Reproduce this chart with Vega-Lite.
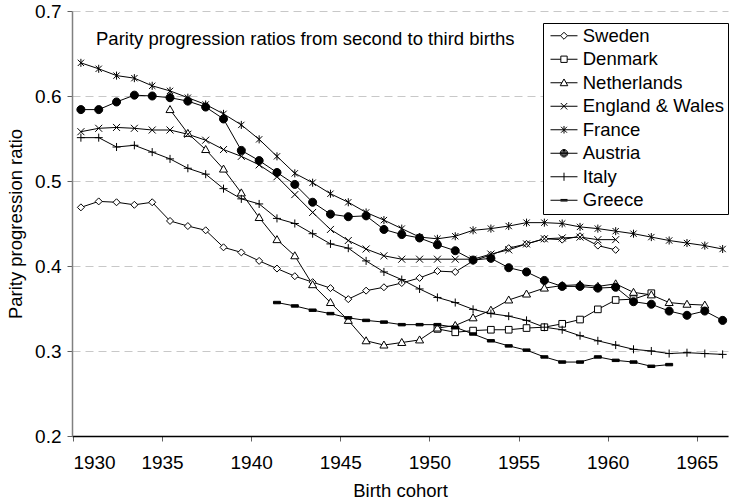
{
  "$schema": "https://vega.github.io/schema/vega-lite/v6.json",
  "width": 656,
  "height": 425,
  "autosize": {"type": "none"},
  "padding": {"left": 72, "top": 11, "right": 1, "bottom": 65},
  "background": "white",
  "config": {
    "view": {"stroke": null},
    "font": "Liberation Sans",
    "axis": {"labelFont": "Liberation Sans", "titleFont": "Liberation Sans", "labelFontSize": 19, "titleFontSize": 18.5, "titleFontWeight": "normal", "labelColor": "black", "titleColor": "black"}
  },
  "title": {"text": "Parity progression ratios from second to third births", "anchor": "start", "frame": "group", "orient": "none", "offset": 0, "baseline": "alphabetic", "dx": 24, "dy": 34, "fontSize": 18.5, "fontWeight": "normal", "color": "black", "font": "Liberation Sans"},
  "data": {"values": [
    {"country":"Sweden","cohort":1930,"ppr":0.469},{"country":"Sweden","cohort":1931,"ppr":0.476},{"country":"Sweden","cohort":1932,"ppr":0.475},{"country":"Sweden","cohort":1933,"ppr":0.472},{"country":"Sweden","cohort":1934,"ppr":0.475},{"country":"Sweden","cohort":1935,"ppr":0.453},{"country":"Sweden","cohort":1936,"ppr":0.447},{"country":"Sweden","cohort":1937,"ppr":0.442},{"country":"Sweden","cohort":1938,"ppr":0.422},{"country":"Sweden","cohort":1939,"ppr":0.416},{"country":"Sweden","cohort":1940,"ppr":0.406},{"country":"Sweden","cohort":1941,"ppr":0.397},{"country":"Sweden","cohort":1942,"ppr":0.388},{"country":"Sweden","cohort":1943,"ppr":0.381},{"country":"Sweden","cohort":1944,"ppr":0.374},{"country":"Sweden","cohort":1945,"ppr":0.361},{"country":"Sweden","cohort":1946,"ppr":0.371},{"country":"Sweden","cohort":1947,"ppr":0.375},{"country":"Sweden","cohort":1948,"ppr":0.380},{"country":"Sweden","cohort":1949,"ppr":0.386},{"country":"Sweden","cohort":1950,"ppr":0.394},{"country":"Sweden","cohort":1951,"ppr":0.393},{"country":"Sweden","cohort":1952,"ppr":0.406},{"country":"Sweden","cohort":1953,"ppr":0.413},{"country":"Sweden","cohort":1954,"ppr":0.421},{"country":"Sweden","cohort":1955,"ppr":0.426},{"country":"Sweden","cohort":1956,"ppr":0.432},{"country":"Sweden","cohort":1957,"ppr":0.431},{"country":"Sweden","cohort":1958,"ppr":0.435},{"country":"Sweden","cohort":1959,"ppr":0.424},{"country":"Sweden","cohort":1960,"ppr":0.419},
    {"country":"Denmark","cohort":1950,"ppr":0.326},{"country":"Denmark","cohort":1951,"ppr":0.322},{"country":"Denmark","cohort":1952,"ppr":0.324},{"country":"Denmark","cohort":1953,"ppr":0.325},{"country":"Denmark","cohort":1954,"ppr":0.325},{"country":"Denmark","cohort":1955,"ppr":0.327},{"country":"Denmark","cohort":1956,"ppr":0.328},{"country":"Denmark","cohort":1957,"ppr":0.332},{"country":"Denmark","cohort":1958,"ppr":0.337},{"country":"Denmark","cohort":1959,"ppr":0.349},{"country":"Denmark","cohort":1960,"ppr":0.360},{"country":"Denmark","cohort":1961,"ppr":0.361},{"country":"Denmark","cohort":1962,"ppr":0.368},
    {"country":"Netherlands","cohort":1935,"ppr":0.584},{"country":"Netherlands","cohort":1936,"ppr":0.556},{"country":"Netherlands","cohort":1937,"ppr":0.537},{"country":"Netherlands","cohort":1938,"ppr":0.514},{"country":"Netherlands","cohort":1939,"ppr":0.486},{"country":"Netherlands","cohort":1940,"ppr":0.457},{"country":"Netherlands","cohort":1941,"ppr":0.431},{"country":"Netherlands","cohort":1942,"ppr":0.412},{"country":"Netherlands","cohort":1943,"ppr":0.378},{"country":"Netherlands","cohort":1944,"ppr":0.357},{"country":"Netherlands","cohort":1945,"ppr":0.336},{"country":"Netherlands","cohort":1946,"ppr":0.312},{"country":"Netherlands","cohort":1947,"ppr":0.307},{"country":"Netherlands","cohort":1948,"ppr":0.310},{"country":"Netherlands","cohort":1949,"ppr":0.313},{"country":"Netherlands","cohort":1950,"ppr":0.327},{"country":"Netherlands","cohort":1951,"ppr":0.330},{"country":"Netherlands","cohort":1952,"ppr":0.339},{"country":"Netherlands","cohort":1953,"ppr":0.348},{"country":"Netherlands","cohort":1954,"ppr":0.360},{"country":"Netherlands","cohort":1955,"ppr":0.367},{"country":"Netherlands","cohort":1956,"ppr":0.374},{"country":"Netherlands","cohort":1957,"ppr":0.377},{"country":"Netherlands","cohort":1958,"ppr":0.378},{"country":"Netherlands","cohort":1959,"ppr":0.376},{"country":"Netherlands","cohort":1960,"ppr":0.379},{"country":"Netherlands","cohort":1961,"ppr":0.369},{"country":"Netherlands","cohort":1962,"ppr":0.366},{"country":"Netherlands","cohort":1963,"ppr":0.357},{"country":"Netherlands","cohort":1964,"ppr":0.355},{"country":"Netherlands","cohort":1965,"ppr":0.354},
    {"country":"England & Wales","cohort":1930,"ppr":0.558},{"country":"England & Wales","cohort":1931,"ppr":0.562},{"country":"England & Wales","cohort":1932,"ppr":0.563},{"country":"England & Wales","cohort":1933,"ppr":0.562},{"country":"England & Wales","cohort":1934,"ppr":0.560},{"country":"England & Wales","cohort":1935,"ppr":0.560},{"country":"England & Wales","cohort":1936,"ppr":0.555},{"country":"England & Wales","cohort":1937,"ppr":0.548},{"country":"England & Wales","cohort":1938,"ppr":0.537},{"country":"England & Wales","cohort":1939,"ppr":0.529},{"country":"England & Wales","cohort":1940,"ppr":0.519},{"country":"England & Wales","cohort":1941,"ppr":0.505},{"country":"England & Wales","cohort":1942,"ppr":0.484},{"country":"England & Wales","cohort":1943,"ppr":0.463},{"country":"England & Wales","cohort":1944,"ppr":0.443},{"country":"England & Wales","cohort":1945,"ppr":0.430},{"country":"England & Wales","cohort":1946,"ppr":0.420},{"country":"England & Wales","cohort":1947,"ppr":0.412},{"country":"England & Wales","cohort":1948,"ppr":0.408},{"country":"England & Wales","cohort":1949,"ppr":0.408},{"country":"England & Wales","cohort":1950,"ppr":0.408},{"country":"England & Wales","cohort":1951,"ppr":0.408},{"country":"England & Wales","cohort":1952,"ppr":0.408},{"country":"England & Wales","cohort":1953,"ppr":0.414},{"country":"England & Wales","cohort":1954,"ppr":0.419},{"country":"England & Wales","cohort":1955,"ppr":0.426},{"country":"England & Wales","cohort":1956,"ppr":0.432},{"country":"England & Wales","cohort":1957,"ppr":0.433},{"country":"England & Wales","cohort":1958,"ppr":0.434},{"country":"England & Wales","cohort":1959,"ppr":0.431},{"country":"England & Wales","cohort":1960,"ppr":0.431},
    {"country":"France","cohort":1930,"ppr":0.639},{"country":"France","cohort":1931,"ppr":0.632},{"country":"France","cohort":1932,"ppr":0.624},{"country":"France","cohort":1933,"ppr":0.621},{"country":"France","cohort":1934,"ppr":0.612},{"country":"France","cohort":1935,"ppr":0.606},{"country":"France","cohort":1936,"ppr":0.598},{"country":"France","cohort":1937,"ppr":0.590},{"country":"France","cohort":1938,"ppr":0.579},{"country":"France","cohort":1939,"ppr":0.566},{"country":"France","cohort":1940,"ppr":0.549},{"country":"France","cohort":1941,"ppr":0.529},{"country":"France","cohort":1942,"ppr":0.509},{"country":"France","cohort":1943,"ppr":0.498},{"country":"France","cohort":1944,"ppr":0.485},{"country":"France","cohort":1945,"ppr":0.475},{"country":"France","cohort":1946,"ppr":0.463},{"country":"France","cohort":1947,"ppr":0.454},{"country":"France","cohort":1948,"ppr":0.444},{"country":"France","cohort":1949,"ppr":0.434},{"country":"France","cohort":1950,"ppr":0.432},{"country":"France","cohort":1951,"ppr":0.435},{"country":"France","cohort":1952,"ppr":0.442},{"country":"France","cohort":1953,"ppr":0.444},{"country":"France","cohort":1954,"ppr":0.447},{"country":"France","cohort":1955,"ppr":0.451},{"country":"France","cohort":1956,"ppr":0.451},{"country":"France","cohort":1957,"ppr":0.450},{"country":"France","cohort":1958,"ppr":0.446},{"country":"France","cohort":1959,"ppr":0.444},{"country":"France","cohort":1960,"ppr":0.441},{"country":"France","cohort":1961,"ppr":0.438},{"country":"France","cohort":1962,"ppr":0.434},{"country":"France","cohort":1963,"ppr":0.430},{"country":"France","cohort":1964,"ppr":0.427},{"country":"France","cohort":1965,"ppr":0.424},{"country":"France","cohort":1966,"ppr":0.420},
    {"country":"Austria","cohort":1930,"ppr":0.584},{"country":"Austria","cohort":1931,"ppr":0.584},{"country":"Austria","cohort":1932,"ppr":0.593},{"country":"Austria","cohort":1933,"ppr":0.601},{"country":"Austria","cohort":1934,"ppr":0.600},{"country":"Austria","cohort":1935,"ppr":0.598},{"country":"Austria","cohort":1936,"ppr":0.594},{"country":"Austria","cohort":1937,"ppr":0.587},{"country":"Austria","cohort":1938,"ppr":0.573},{"country":"Austria","cohort":1939,"ppr":0.536},{"country":"Austria","cohort":1940,"ppr":0.524},{"country":"Austria","cohort":1941,"ppr":0.510},{"country":"Austria","cohort":1942,"ppr":0.496},{"country":"Austria","cohort":1943,"ppr":0.475},{"country":"Austria","cohort":1944,"ppr":0.461},{"country":"Austria","cohort":1945,"ppr":0.458},{"country":"Austria","cohort":1946,"ppr":0.459},{"country":"Austria","cohort":1947,"ppr":0.443},{"country":"Austria","cohort":1948,"ppr":0.437},{"country":"Austria","cohort":1949,"ppr":0.433},{"country":"Austria","cohort":1950,"ppr":0.425},{"country":"Austria","cohort":1951,"ppr":0.418},{"country":"Austria","cohort":1952,"ppr":0.407},{"country":"Austria","cohort":1953,"ppr":0.409},{"country":"Austria","cohort":1954,"ppr":0.398},{"country":"Austria","cohort":1955,"ppr":0.393},{"country":"Austria","cohort":1956,"ppr":0.383},{"country":"Austria","cohort":1957,"ppr":0.376},{"country":"Austria","cohort":1958,"ppr":0.376},{"country":"Austria","cohort":1959,"ppr":0.374},{"country":"Austria","cohort":1960,"ppr":0.375},{"country":"Austria","cohort":1961,"ppr":0.358},{"country":"Austria","cohort":1962,"ppr":0.355},{"country":"Austria","cohort":1963,"ppr":0.347},{"country":"Austria","cohort":1964,"ppr":0.342},{"country":"Austria","cohort":1965,"ppr":0.347},{"country":"Austria","cohort":1966,"ppr":0.336},
    {"country":"Italy","cohort":1930,"ppr":0.551},{"country":"Italy","cohort":1931,"ppr":0.551},{"country":"Italy","cohort":1932,"ppr":0.540},{"country":"Italy","cohort":1933,"ppr":0.542},{"country":"Italy","cohort":1934,"ppr":0.534},{"country":"Italy","cohort":1935,"ppr":0.526},{"country":"Italy","cohort":1936,"ppr":0.515},{"country":"Italy","cohort":1937,"ppr":0.508},{"country":"Italy","cohort":1938,"ppr":0.491},{"country":"Italy","cohort":1939,"ppr":0.479},{"country":"Italy","cohort":1940,"ppr":0.473},{"country":"Italy","cohort":1941,"ppr":0.456},{"country":"Italy","cohort":1942,"ppr":0.450},{"country":"Italy","cohort":1943,"ppr":0.438},{"country":"Italy","cohort":1944,"ppr":0.426},{"country":"Italy","cohort":1945,"ppr":0.421},{"country":"Italy","cohort":1946,"ppr":0.406},{"country":"Italy","cohort":1947,"ppr":0.393},{"country":"Italy","cohort":1948,"ppr":0.384},{"country":"Italy","cohort":1949,"ppr":0.373},{"country":"Italy","cohort":1950,"ppr":0.363},{"country":"Italy","cohort":1951,"ppr":0.357},{"country":"Italy","cohort":1952,"ppr":0.349},{"country":"Italy","cohort":1953,"ppr":0.344},{"country":"Italy","cohort":1954,"ppr":0.341},{"country":"Italy","cohort":1955,"ppr":0.336},{"country":"Italy","cohort":1956,"ppr":0.328},{"country":"Italy","cohort":1957,"ppr":0.325},{"country":"Italy","cohort":1958,"ppr":0.318},{"country":"Italy","cohort":1959,"ppr":0.312},{"country":"Italy","cohort":1960,"ppr":0.307},{"country":"Italy","cohort":1961,"ppr":0.302},{"country":"Italy","cohort":1962,"ppr":0.300},{"country":"Italy","cohort":1963,"ppr":0.297},{"country":"Italy","cohort":1964,"ppr":0.298},{"country":"Italy","cohort":1965,"ppr":0.297},{"country":"Italy","cohort":1966,"ppr":0.296},
    {"country":"Greece","cohort":1941,"ppr":0.357},{"country":"Greece","cohort":1942,"ppr":0.353},{"country":"Greece","cohort":1943,"ppr":0.348},{"country":"Greece","cohort":1944,"ppr":0.344},{"country":"Greece","cohort":1945,"ppr":0.339},{"country":"Greece","cohort":1946,"ppr":0.336},{"country":"Greece","cohort":1947,"ppr":0.334},{"country":"Greece","cohort":1948,"ppr":0.331},{"country":"Greece","cohort":1949,"ppr":0.331},{"country":"Greece","cohort":1950,"ppr":0.331},{"country":"Greece","cohort":1951,"ppr":0.328},{"country":"Greece","cohort":1952,"ppr":0.320},{"country":"Greece","cohort":1953,"ppr":0.312},{"country":"Greece","cohort":1954,"ppr":0.306},{"country":"Greece","cohort":1955,"ppr":0.301},{"country":"Greece","cohort":1956,"ppr":0.293},{"country":"Greece","cohort":1957,"ppr":0.287},{"country":"Greece","cohort":1958,"ppr":0.287},{"country":"Greece","cohort":1959,"ppr":0.293},{"country":"Greece","cohort":1960,"ppr":0.289},{"country":"Greece","cohort":1961,"ppr":0.287},{"country":"Greece","cohort":1962,"ppr":0.282},{"country":"Greece","cohort":1963,"ppr":0.284}
  ]},
  "encoding": {
    "x": {"field": "cohort", "type": "quantitative", "scale": {"domain": [1929.95, 1966.75], "nice": false, "zero": false},
      "axis": {"values": [1930,1935,1940,1945,1950,1955,1960,1965], "format": "d", "title": "Birth cohort", "grid": false, "domainColor": "black", "domainWidth": 1.5, "tickColor": "#606060", "tickSize": 5, "labelPadding": 12, "titlePadding": 9}},
    "y": {"field": "ppr", "type": "quantitative", "scale": {"domain": [0.2, 0.7], "nice": false, "zero": false},
      "axis": {"values": [0.2,0.3,0.4,0.5,0.6,0.7], "format": ".1f", "title": "Parity progression ratio", "grid": true, "gridDash": [8,5], "gridColor": "#c8c8c8", "gridWidth": 1, "domainColor": "#808080", "domainWidth": 1.5, "tickColor": "#606060", "tickSize": 5, "labelPadding": 6, "titlePadding": 9}}
  },
  "layer": [
    {"mark": {"type": "line", "color": "black", "strokeWidth": 1, "xOffset": 8}, "encoding": {"detail": {"field": "country"}}},
    {"mark": {"type": "point", "filled": true, "size": 49, "stroke": "black", "strokeWidth": 1, "opacity": 1, "xOffset": 8},
      "encoding": {
        "shape": {"field": "country", "scale": {"domain": ["Sweden","Denmark","Netherlands","England & Wales","France","Austria","Italy","Greece"], "range": ["M0,-1L1,0L0,1L-1,0Z","M-0.95,-0.95H0.95V0.95H-0.95Z","M0,-1.15L1.15,0.85L-1.15,0.85Z","M-1,-1L1,1M-1,1L1,-1","M-0.9,-0.9L0.9,0.9M-0.9,0.9L0.9,-0.9M0,-1.15V1.15","M1.15,0A1.15,1.15,0,1,1,-1.15,0A1.15,1.15,0,1,1,1.15,0Z","M-1.15,0H1.15M0,-1.15V1.15","M-1,-0.35H1V0.35H-1Z"]}, "legend": null},
        "fill": {"field": "country", "scale": {"domain": ["Sweden","Denmark","Netherlands","England & Wales","France","Austria","Italy","Greece"], "range": ["white","white","white","white","white","black","white","black"]}, "legend": null}
      }},
    {"mark": {"type": "point", "filled": true, "fill": "white", "size": 49, "stroke": "black", "strokeWidth": 1, "opacity": 0},
      "encoding": {
        "shape": {"field": "country", "scale": {"domain": ["Sweden","Denmark","Netherlands","England & Wales","France","Austria","Italy","Greece"], "range": [
          "M-2,0H-0.52M0.52,0H2M0,-0.52L0.52,0L0,0.52L-0.52,0Z",
          "M-2,0H-0.47M0.47,0H2M-0.47,-0.47H0.47V0.47H-0.47Z",
          "M-2,0H-0.31M0.31,0H2M0,-0.56L0.56,0.44L-0.56,0.44Z",
          "M-2,0H2M-0.48,-0.48L0.48,0.48M-0.48,0.48L0.48,-0.48",
          "M-2,0H2M-0.44,-0.44L0.44,0.44M-0.44,0.44L0.44,-0.44M0,-0.56V0.56",
          "M-2,0H2M0.56,0A0.56,0.56,0,1,1,-0.56,0A0.56,0.56,0,1,1,0.56,0M0.42,0A0.42,0.42,0,1,1,-0.42,0A0.42,0.42,0,1,1,0.42,0M0.28,0A0.28,0.28,0,1,1,-0.28,0A0.28,0.28,0,1,1,0.28,0M0.14,0A0.14,0.14,0,1,1,-0.14,0A0.14,0.14,0,1,1,0.14,0",
          "M-2,0H2M0,-0.6V0.6",
          "M-2,0H2M-0.52,-0.12H0.52M-0.52,0.12H0.52"]},
          "legend": {"title": null, "orient": "none", "legendX": 471, "legendY": 12, "strokeColor": "black", "fillColor": "white", "padding": 3.5, "labelFontSize": 18.5, "labelFont": "Liberation Sans", "labelColor": "black", "symbolSize": 182, "symbolStrokeWidth": 1, "symbolFillColor": "white", "symbolOpacity": 1, "symbolOffset": 8.25, "labelOffset": 9.5, "rowPadding": 4.5, "labelLimit": 300, "cornerRadius": 0}}
      }}
  ],
  "resolve": {"scale": {"shape": "independent"}, "legend": {"shape": "independent"}}
}
